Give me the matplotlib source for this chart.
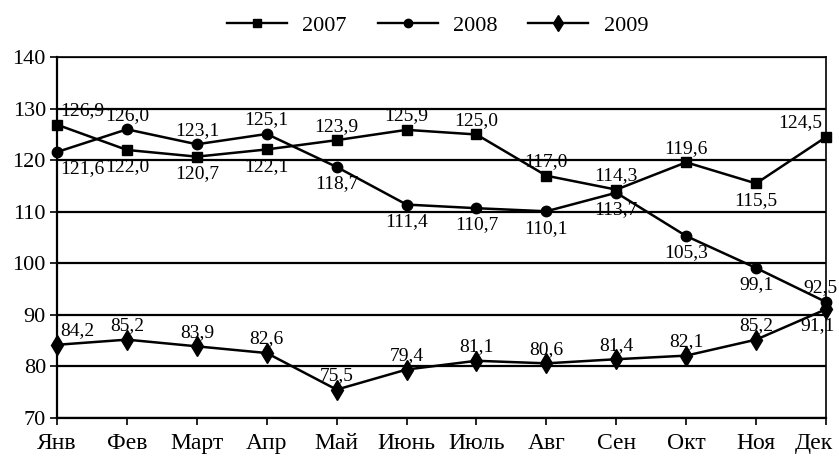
import matplotlib.pyplot as plt
import matplotlib.transforms as mtransforms
import matplotlib.lines as mlines
import numpy as np

months = ["Янв", "Фев", "Март", "Апр", "Май", "Июнь", "Июль", "Авг", "Сен", "Окт", "Ноя", "Дек"]
y2007 = [126.9, 122.0, 120.7, 122.1, 123.9, 125.9, 125.0, 117.0, 114.3, 119.6, 115.5, 124.5]
y2008 = [121.6, 126.0, 123.1, 125.1, 118.7, 111.4, 110.7, 110.1, 113.7, 105.3, 99.1, 92.5]
y2009 = [84.2, 85.2, 83.9, 82.6, 75.5, 79.4, 81.1, 80.6, 81.4, 82.1, 85.2, 91.1]

# where each value label goes: a = above, b = below
place2007 = "abbbaaaaaaba"
place2008 = "baaabbbbbbba"
place2009 = "aaaaaaaaaaab"

plt.rcParams['font.family'] = ['Liberation Serif', 'DejaVu Serif']

fig = plt.figure(figsize=(8.39, 4.61), dpi=100)
ax = fig.add_axes([0.068, 0.0933, 0.9165, 0.7827])

x = np.arange(len(months))
ax.plot(x, y2007, color='black', lw=1.8, marker='s', ms=7.5, clip_on=False, zorder=3)
ax.plot(x, y2008, color='black', lw=1.8, marker='o', ms=7.5, clip_on=False, zorder=3)
ax.plot(x, y2009, color='black', lw=1.8, marker='d', ms=10, clip_on=False, zorder=3)

def fmt(v):
    return f"{v:.1f}".replace('.', ',')

fs = 14
last_shift = [(-3, 'right'), (-4, 'center'), (-6, 'center')]
for k, (vals, places) in enumerate([(y2007, place2007), (y2008, place2008), (y2009, place2009)]):
    for i, (v, p) in enumerate(zip(vals, places)):
        dx = 0
        ha = 'center'
        if i == 0:
            dx, ha = 2, 'left'
        if i == len(vals) - 1:
            dx, ha = last_shift[k]
        if p == 'a':
            ax.annotate(fmt(v), (i, v), xytext=(dx, 4), textcoords='offset points',
                        ha=ha, va='bottom', fontsize=fs)
        else:
            ax.annotate(fmt(v), (i, v), xytext=(dx, -6), textcoords='offset points',
                        ha=ha, va='top', fontsize=fs)

ax.set_xlim(0, 11)
ax.set_ylim(70, 140)
ax.set_yticks(range(70, 141, 10))
ax.set_xticks(x)
ax.set_xticklabels(months)
ax.grid(axis='y', color='black', lw=1.6)
ax.set_axisbelow(True)
for s in ax.spines.values():
    s.set_color('black')
    s.set_linewidth(1.2)
ax.spines['left'].set_linewidth(1.6)
ax.spines['bottom'].set_linewidth(1.6)
ax.tick_params(axis='both', direction='out', length=5, width=1.2, color='black')
ax.tick_params(axis='y', labelsize=16, pad=3)
ax.tick_params(axis='x', labelsize=17, pad=6)

# keep the last month label inside the figure
last = ax.get_xticklabels()[-1]
last.set_transform(last.get_transform() + mtransforms.ScaledTranslation(-12 / 100, 0, fig.dpi_scale_trans))

h1 = mlines.Line2D([], [], color='black', lw=1.7, marker='s', ms=6, label='2007')
h2 = mlines.Line2D([], [], color='black', lw=1.7, marker='o', ms=6, label='2008')
h3 = mlines.Line2D([], [], color='black', lw=1.7, marker='d', ms=8, label='2009')
fig.legend(handles=[h1, h2, h3], loc='upper center', bbox_to_anchor=(0.5215, 1.01), ncol=3,
           frameon=False, fontsize=16, handlelength=2.7, handletextpad=0.68, columnspacing=1.4)

fig.savefig('out.png', dpi=100)
